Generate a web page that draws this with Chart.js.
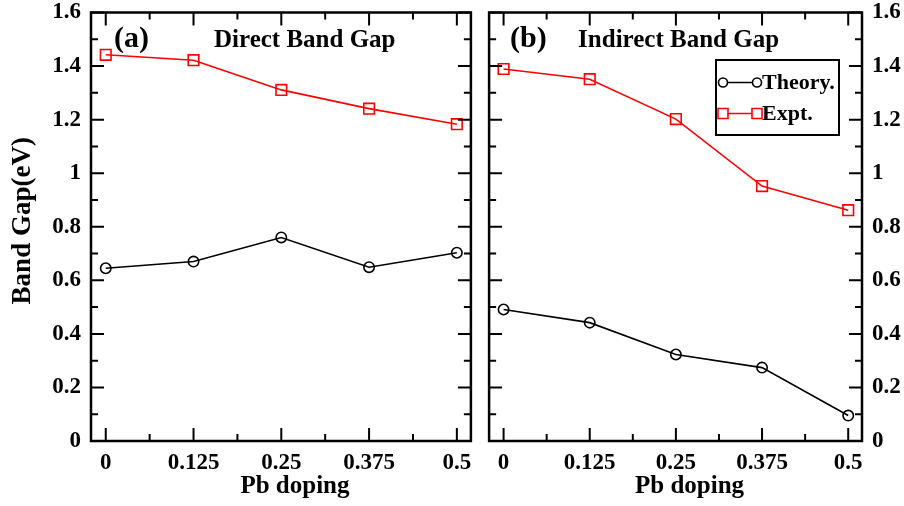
<!DOCTYPE html>
<html>
<head>
<meta charset="utf-8" />
<title>Band Gap vs Pb doping</title>
<script src="https://cdn.jsdelivr.net/npm/chart.js@4.4.0/dist/chart.umd.min.js"></script>
<style>
  body { margin: 0; background: #fff; }
  #wrap { position: relative; width: 904px; height: 506px; }
  canvas { position: absolute; top: 0; }
</style>
</head>
<body>
<div id="wrap">
  <canvas id="chartA" width="480" height="506" style="left:0px"></canvas>
  <canvas id="chartB" width="424" height="506" style="left:480px"></canvas>
</div>
<script>
// data
const pbDoping = [0, 0.125, 0.25, 0.375, 0.5];
const directTheory = [0.645, 0.670, 0.760, 0.649, 0.703];
const directExpt = [1.442, 1.422, 1.311, 1.241, 1.183];
const indirectTheory = [0.491, 0.442, 0.323, 0.274, 0.095];
const indirectExpt = [1.389, 1.351, 1.202, 0.952, 0.862];
const xTicks = [0, 0.125, 0.25, 0.375, 0.5];
const yTicks = [0, 0.2, 0.4, 0.6, 0.8, 1, 1.2, 1.4, 1.6];
const seriesNames = ['Theory.', 'Expt.'];

const SERIF = '"Liberation Serif", "Times New Roman", serif';

function midpoints(arr) {
  let out = [];
  for (let i = 0; i < arr.length - 1; i++) out.push((arr[i] + arr[i + 1]) / 2);
  return out;
}

// frame, inward ticks, panel text and the legend box
const framePlugin = {
  id: 'frame',
  afterDatasetsDraw(chart, args, opts) {
    const ctx = chart.ctx;
    const a = chart.chartArea;
    const xs = chart.scales.x, ys = chart.scales.y;
    ctx.save();
    ctx.strokeStyle = '#000';
    ctx.lineWidth = 2;
    ctx.beginPath();
    const tick = (vals, len) => {
      for (let v of vals) {
        let px = xs.getPixelForValue(v);
        ctx.moveTo(px, a.bottom); ctx.lineTo(px, a.bottom - len);
        ctx.moveTo(px, a.top); ctx.lineTo(px, a.top + len);
      }
    };
    const ytick = (vals, len) => {
      for (let v of vals) {
        let py = ys.getPixelForValue(v);
        ctx.moveTo(a.left, py); ctx.lineTo(a.left + len, py);
        ctx.moveTo(a.right, py); ctx.lineTo(a.right - len, py);
      }
    };
    tick(xTicks, 13); tick(midpoints(xTicks), 7);
    ytick(yTicks, 13); ytick(midpoints(yTicks), 7);
    ctx.stroke();

    ctx.lineWidth = 2.5;
    ctx.strokeRect(a.left, a.top, a.right - a.left, a.bottom - a.top);

    ctx.fillStyle = '#000';
    ctx.textBaseline = 'alphabetic';
    ctx.textAlign = 'left';
    ctx.font = 'bold 30px ' + SERIF;
    ctx.fillText(opts.tag, a.left + opts.tagX, a.top + 34);
    ctx.font = 'bold 25px ' + SERIF;
    ctx.fillText(opts.title, a.left + opts.titleX, a.top + 34);

    // x axis title
    ctx.textAlign = 'center';
    ctx.textBaseline = 'middle';
    ctx.font = 'bold 25px ' + SERIF;
    ctx.fillText('Pb doping', (a.left + a.right) / 2 + 14, 487);

    if (opts.yTitle) {
      ctx.save();
      ctx.translate(23, (a.top + a.bottom) / 2 - 6);
      ctx.rotate(-Math.PI / 2);
      ctx.font = 'bold 27px ' + SERIF;
      ctx.fillText(opts.yTitle, 0, 0);
      ctx.restore();
    }

    if (opts.legend) {
      const bx = a.right - 23 - 123, by = a.top + 47.5;
      ctx.lineWidth = 2;
      ctx.strokeRect(bx, by, 123, 75);
      chart.data.datasets.forEach((ds, i) => {
        const ry = by + 22.5 + i * 31;
        const x0 = bx + 7, x1 = bx + 41;
        ctx.strokeStyle = ds.borderColor;
        ctx.lineWidth = 1.6;
        ctx.beginPath();
        ctx.moveTo(x0, ry); ctx.lineTo(x1, ry);
        ctx.stroke();
        for (let px of [x0, x1]) {
          ctx.fillStyle = '#fff';
          ctx.beginPath();
          if (ds.pointStyle === 'rect') ctx.rect(px - 5, ry - 5, 10, 10);
          else ctx.arc(px, ry, 4.5, 0, Math.PI * 2);
          ctx.fill();
          ctx.stroke();
        }
        ctx.fillStyle = '#000';
        ctx.textAlign = 'left';
        ctx.textBaseline = 'middle';
        ctx.font = 'bold 22px ' + SERIF;
        ctx.fillText(ds.label, x1 + 5, ry + 1);
      });
    }
    ctx.restore();
  }
};

// keep the plot area where the layout padding puts it
function noLabelPadding(s) {
  s.paddingTop = 0; s.paddingBottom = 0; s.paddingLeft = 0; s.paddingRight = 0;
}

function makeChart(id, theory, expt, cfg) {
  const tickFont = { family: SERIF, size: 23, weight: 'bold' };
  return new Chart(document.getElementById(id), {
    type: 'line',
    data: {
      datasets: [
        {
          label: seriesNames[0],
          data: pbDoping.map((x, i) => ({ x: x, y: theory[i] })),
          borderColor: '#000000',
          borderWidth: 1.6,
          pointStyle: 'circle',
          pointRadius: 5.2,
          pointBorderWidth: 1.6,
          pointBorderColor: '#000000',
          pointBackgroundColor: 'rgba(255,255,255,0)',
          tension: 0
        },
        {
          label: seriesNames[1],
          data: pbDoping.map((x, i) => ({ x: x, y: expt[i] })),
          borderColor: '#ff0000',
          borderWidth: 1.6,
          pointStyle: 'rect',
          pointRadius: 7.5,
          pointBorderWidth: 1.6,
          pointBorderColor: '#ff0000',
          pointBackgroundColor: 'rgba(255,255,255,0)',
          tension: 0
        }
      ]
    },
    options: {
      responsive: false,
      animation: false,
      layout: { padding: cfg.padding },
      plugins: {
        legend: { display: false },
        tooltip: { enabled: false },
        frame: cfg
      },
      scales: {
        x: {
          type: 'linear',
          min: -0.021,
          max: 0.52,
          afterBuildTicks: s => { s.ticks = xTicks.map(v => ({ value: v })); },
          afterFit: s => { s.height = 65; noLabelPadding(s); },
          grid: { display: false, drawTicks: false },
          border: { display: false },
          ticks: { font: tickFont, color: '#000', padding: 8, maxRotation: 0, autoSkip: false, callback: v => String(v) }
        },
        y: {
          position: cfg.yPos,
          min: 0,
          max: 1.6,
          afterBuildTicks: s => { s.ticks = yTicks.map(v => ({ value: v })); },
          afterFit: s => { s.width = cfg.yWidth; noLabelPadding(s); },
          grid: { display: false, drawTicks: false },
          border: { display: false },
          ticks: { font: tickFont, color: '#000', padding: 10, autoSkip: false, callback: v => String(v) }
        }
      }
    },
    plugins: [framePlugin]
  });
}

makeChart('chartA', directTheory, directExpt, {
  padding: { top: 12.5, right: 6, left: 0, bottom: 0 },
  yPos: 'left', yWidth: 91,
  tag: '(a)', tagX: 23, title: 'Direct Band Gap', titleX: 123,
  yTitle: 'Band Gap(eV)', legend: false
});
makeChart('chartB', indirectTheory, indirectExpt, {
  padding: { top: 12.5, right: 0, left: 6, bottom: 0 },
  yPos: 'right', yWidth: 42,
  tag: '(b)', tagX: 21, title: 'Indirect Band Gap', titleX: 89,
  yTitle: null, legend: true
});
</script>
</body>
</html>
